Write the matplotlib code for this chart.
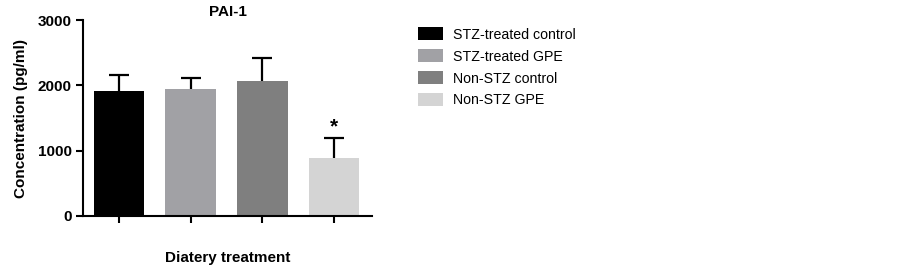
import numpy as np
import matplotlib
matplotlib.use("Agg")
import matplotlib.pyplot as plt
from matplotlib.patches import Patch

plt.rcParams['font.family'] = ['Liberation Sans', 'DejaVu Sans']

groups = ["STZ-treated control", "STZ-treated GPE", "Non-STZ control", "Non-STZ GPE"]
means = [1915, 1950, 2070, 885]
sem = [250, 170, 350, 310]
colors = ["#000000", "#a1a1a5", "#7f7f7f", "#d4d4d4"]
yticks = [0, 1000, 2000, 3000]

fig = plt.figure(figsize=(9.03, 2.71), dpi=100)
ax = fig.add_axes([0.092, 0.203, 0.320, 0.723])

x = np.arange(len(groups))
ax.bar(x, means, width=0.71, color=colors, zorder=2)

# upper-only error bars (SEM)
tops = np.array(means) + np.array(sem)
cap = 0.14
ax.vlines(x, means, tops, color='black', linewidth=1.6, zorder=1)
ax.hlines(tops, x - cap, x + cap, color='black', linewidth=1.6, zorder=3)

# significance marker
ax.text(x[3], tops[3] + 20, "*", ha='center', va='bottom',
        fontsize=15, fontweight='bold')

ax.set_xlim(-0.502, 3.53)
ax.set_ylim(0, 3000)
ax.set_yticks(yticks)
ax.set_yticklabels([str(t) for t in yticks], fontsize=11, fontweight='bold')
ax.set_xticks(x)
ax.set_xticklabels([])
ax.tick_params(axis='both', direction='out', length=5, width=1.5, pad=3)
for s in ['top', 'right']:
    ax.spines[s].set_visible(False)
for s in ['left', 'bottom']:
    ax.spines[s].set_linewidth(1.5)

ax.set_title("PAI-1", fontsize=11, fontweight='bold', pad=3)
ax.set_ylabel("Concentration (pg/ml)", fontsize=11, fontweight='bold', labelpad=7)
ax.set_xlabel("Diatery treatment", fontsize=11, fontweight='bold', labelpad=17)

handles = [Patch(facecolor=c, edgecolor='none') for c in colors]
fig.legend(handles, groups, loc='upper left', bbox_to_anchor=(0.4565, 0.92),
           frameon=False, fontsize=10.2, handlelength=1.8, handleheight=1.0,
           labelspacing=0.55, handletextpad=0.7, borderaxespad=0)

fig.savefig("out.png", dpi=100)
